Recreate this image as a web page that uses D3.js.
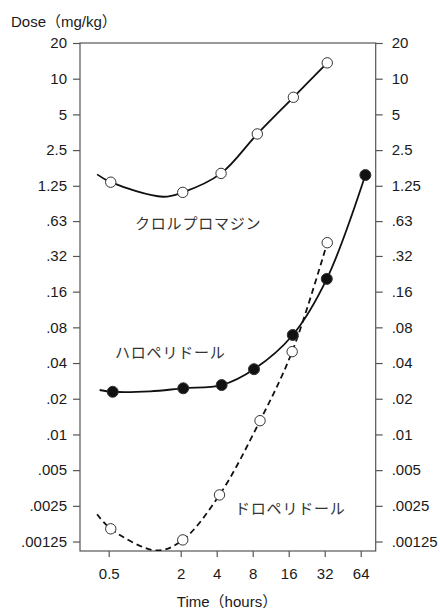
<!DOCTYPE html>
<html>
<head>
<meta charset="utf-8">
<script src="https://cdn.jsdelivr.net/npm/d3@7"></script>
<style>
  body { margin: 0; background: #fff; }
  svg { display: block; }
</style>
</head>
<body>
<div id="chart"></div>
<script>
// Axis ticks
var timeTicks = [0.5, 2, 4, 8, 16, 32, 64];
var doseTicks = [20, 10, 5, 2.5, 1.25, 0.63, 0.32, 0.16, 0.08, 0.04, 0.02, 0.01, 0.005, 0.0025, 0.00125];
var doseTickLabels = ['20', '10', '5', '2.5', '1.25', '.63', '.32', '.16', '.08', '.04', '.02', '.01', '.005', '.0025', '.00125'];

// Chlorpromazine: open circles, solid fitted curve
var chlorTime = [0.52, 2.08, 4.35, 8.74, 17.5, 33.6];
var chlorDose = [1.34, 1.10, 1.59, 3.42, 6.97, 13.6];
var chlorCurveTime = [0.4, 0.52, 1.42, 2.08, 4.35, 8.74, 17.5, 33.6];
var chlorCurveDose = [1.56, 1.34, 1.01, 1.10, 1.59, 3.42, 6.97, 13.6];

// Haloperidol: filled circles, solid fitted curve
var haloTime = [0.54, 2.10, 4.40, 8.2, 17.3, 33.3, 70];
var haloDose = [0.0229, 0.0245, 0.0261, 0.0355, 0.069, 0.205, 1.54];
var haloCurveTime = [0.42, 0.54, 1.11, 2.10, 4.40, 8.2, 17.3, 33.3, 70];
var haloCurveDose = [0.0237, 0.0229, 0.0231, 0.0245, 0.0261, 0.0355, 0.069, 0.205, 1.54];

// Droperidol: open circles, dashed fitted curve
var droTime = [0.52, 2.08, 4.22, 9.21, 17.1, 33.6];
var droDose = [0.0016, 0.00129, 0.00309, 0.01306, 0.0499, 0.414];
var droCurveTime = [0.4, 0.52, 1.26, 2.08, 4.22, 9.21, 17.1, 33.6];
var droCurveDose = [0.00212, 0.0016, 0.00105, 0.00129, 0.00309, 0.01306, 0.0499, 0.414];

(function () {
  'use strict';

  var width = 440, height = 610;
  var left = 80, right = 375.7, top = 43, bottom = 551;
  var latin = '"Liberation Sans", Arial, "Noto Sans CJK JP", sans-serif';
  var cjk = '"Noto Sans CJK JP", sans-serif';
  var lineColor = '#555';
  var textColor = '#1a1a1a';

  function zip(a, b) {
    return a.map(function (v, i) { return [v, b[i]]; });
  }

  var svg = d3.select('#chart').append('svg')
    .attr('width', width)
    .attr('height', height);

  var x = d3.scaleLog().domain([0.2877, 85.4]).range([left, right]);
  var y = d3.scaleLog().domain([0.00104, 20]).range([bottom, top]);

  svg.append('defs').append('clipPath').attr('id', 'plot-clip')
    .append('rect')
    .attr('x', left).attr('y', top)
    .attr('width', right - left).attr('height', bottom - top);

  // Frame
  svg.append('rect')
    .attr('x', left).attr('y', top)
    .attr('width', right - left).attr('height', bottom - top)
    .attr('fill', 'none')
    .attr('stroke', lineColor)
    .attr('stroke-width', 1.2);

  function styleAxis(g) {
    g.select('.domain').remove();
    g.selectAll('line').attr('stroke', lineColor).attr('stroke-width', 1.2);
    g.selectAll('text')
      .attr('fill', textColor)
      .style('font-family', latin)
      .style('font-size', '15px');
  }

  var yFmt = function (d, i) { return doseTickLabels[i]; };

  svg.append('g')
    .attr('transform', 'translate(' + left + ',0)')
    .call(d3.axisLeft(y).tickValues(doseTicks).tickFormat(yFmt).tickSize(7).tickPadding(6))
    .call(styleAxis);

  svg.append('g')
    .attr('transform', 'translate(' + right + ',0)')
    .call(d3.axisRight(y).tickValues(doseTicks).tickFormat(yFmt).tickSize(7).tickPadding(9))
    .call(styleAxis);

  svg.append('g')
    .attr('transform', 'translate(0,' + bottom + ')')
    .call(d3.axisBottom(x).tickValues(timeTicks).tickFormat(function (d) { return String(d); })
      .tickSize(6).tickPadding(11))
    .call(styleAxis);

  // Axis titles
  svg.append('text')
    .attr('x', 11)
    .attr('y', 27)
    .attr('fill', textColor)
    .style('font-family', latin)
    .style('font-size', '15px')
    .text('Dose（mg/kg）');

  svg.append('text')
    .attr('x', 227)
    .attr('y', 607)
    .attr('text-anchor', 'middle')
    .attr('fill', textColor)
    .style('font-family', latin)
    .style('font-size', '15px')
    .text('Time（hours）');

  // Curves
  var line = d3.line()
    .x(function (d) { return x(d[0]); })
    .y(function (d) { return y(d[1]); })
    .curve(d3.curveCatmullRom.alpha(0.5));

  var curves = svg.append('g').attr('clip-path', 'url(#plot-clip)');

  curves.append('path')
    .attr('d', line(zip(chlorCurveTime, chlorCurveDose)))
    .attr('fill', 'none').attr('stroke', '#111').attr('stroke-width', 1.8);

  curves.append('path')
    .attr('d', line(zip(haloCurveTime, haloCurveDose)))
    .attr('fill', 'none').attr('stroke', '#111').attr('stroke-width', 1.8);

  curves.append('path')
    .attr('d', line(zip(droCurveTime, droCurveDose)))
    .attr('fill', 'none').attr('stroke', '#111').attr('stroke-width', 1.8)
    .attr('stroke-dasharray', '6,4');

  // Points
  function dots(times, doses, filled) {
    svg.append('g')
      .selectAll('circle')
      .data(zip(times, doses))
      .enter()
      .append('circle')
      .attr('cx', function (d) { return x(d[0]); })
      .attr('cy', function (d) { return y(d[1]); })
      .attr('r', filled ? 5.5 : 5.2)
      .attr('fill', filled ? '#111' : '#fff')
      .attr('stroke', '#333')
      .attr('stroke-width', 1);
  }

  dots(chlorTime, chlorDose, false);
  dots(haloTime, haloDose, true);
  dots(droTime, droDose, false);

  // Drug labels
  function label(txt, lx, ly) {
    svg.append('text')
      .attr('x', lx)
      .attr('y', ly)
      .attr('dominant-baseline', 'central')
      .attr('fill', '#333')
      .style('font-family', cjk)
      .style('font-size', '15px')
      .style('letter-spacing', '0.8px')
      .text(txt);
  }

  label('クロルプロマジン', 135, 222);
  label('ハロペリドール', 115, 351);
  label('ドロペリドール', 235, 507);
})();
</script>
</body>
</html>
